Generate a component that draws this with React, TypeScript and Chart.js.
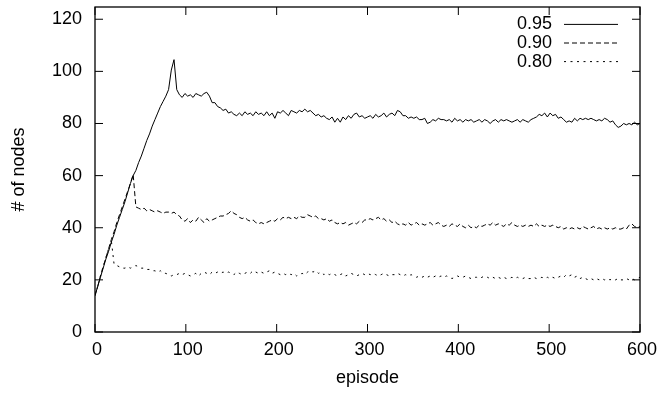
import React, { useEffect, useRef } from "react";
import { Chart, registerables } from "chart.js";

Chart.register(...registerables);

const FONT = '"Liberation Sans", Arial, Helvetica, sans-serif';

// x categories: one sample every 3 episodes, 0..600
const EPISODE_STEP = 3;
const EPISODES = Array.from({ length: 201 }, (_, i) => i * EPISODE_STEP);

const X_TICKS = [0, 100, 200, 300, 400, 500, 600];
const Y_TICKS = [0, 20, 40, 60, 80, 100, 120];

const SERIES_LABELS = ["0.95", "0.90", "0.80"];

const S95 = [
  14, 17.5, 21, 24.5, 28, 31, 34.5, 37.5, 41, 44,
  47, 50, 53.5, 57, 60, 62, 65, 67.5, 70.5, 73.5,
  76, 79, 81.5, 84, 86.5, 88.5, 90.5, 93, 100.5, 104.5,
  93, 91, 90, 91.5, 90.5, 91, 90, 91.5, 91, 90.5,
  91.5, 92, 90.5, 88, 88, 86.5, 86, 85, 85.5, 84,
  84.5, 83.5, 83, 84, 83, 84.5, 83.5, 84, 83, 84.5,
  83.5, 84, 83, 84.5, 83, 84, 82, 84.5, 84, 85,
  84, 83, 85, 84.5, 84, 85, 84.5, 85.5, 84.5, 85,
  84, 83, 83.5, 82.5, 83, 82, 81.5, 82.5, 80.5, 82,
  80.5, 82.5, 81.5, 83, 82, 83.5, 84, 82.5, 83, 82,
  82.5, 83, 82, 83.5, 82.5, 83, 84, 82.5, 83.5, 84,
  83, 85, 84.5, 83, 83, 82, 82.5, 82, 82.5, 81.5,
  81.5, 82, 80, 80.5, 81.5, 81, 82, 81.5, 81.5, 81,
  81.5, 80.5, 82, 81, 81.5, 80.5, 81.5, 81, 81.5, 80.5,
  81, 81.5, 80.5, 81.5, 81, 80, 81, 81.5, 80.5, 81.5,
  81, 81.5, 81, 80.5, 81, 81.5, 80.5, 81.5, 81, 80.5,
  81.5, 82, 82.5, 83.5, 83, 84, 82.5, 84, 83, 83.5,
  82, 82.5, 81.5, 80.5, 81, 80.5, 82, 81, 82, 81.5,
  82, 81.5, 82, 81.5, 81, 81.5, 81, 82, 81.5, 80.5,
  81, 79.5, 78.5, 79, 80, 79.5, 80, 79.5, 80.5, 79.5,
  80,
];

const S90 = [
  14, 17.5, 21.5, 25, 28.5, 32, 35.5, 38.5, 42, 45,
  48, 51, 54, 57, 60.5, 48, 47.5, 47, 47.5, 46.5,
  47, 46.5, 46, 46.5, 46, 45.5, 46, 46, 45.5, 46,
  45, 44.5, 43, 42.5, 43.5, 42, 43, 42.5, 44, 43,
  42, 43.5, 42.5, 43, 43.5, 44, 44.5, 44.5, 45, 45.5,
  46.5, 45.5, 45, 44, 43.5, 44, 43, 42.5, 43, 42,
  41.5, 42, 41.5, 42, 42.5, 43, 42.5, 43.5, 43, 44,
  43.5, 44, 43.5, 44, 43.5, 44.5, 44, 44, 45, 44.5,
  44, 44.5, 43.5, 43.5, 43, 43.5, 42.5, 43, 42, 41.5,
  42, 41.5, 42, 41, 41.5, 42, 41.5, 42.5, 42, 43,
  43, 43.5, 43, 43.5, 44, 43, 43.5, 42.5, 43, 42,
  42.5, 41.5, 41, 41.5, 41, 42, 41, 41.5, 42, 41,
  41.5, 41, 41.5, 42, 41, 41.5, 42, 41, 40.5, 41,
  40.5, 41.5, 41, 40.5, 41.5, 40.5, 40, 41, 40, 40.5,
  40, 41, 40.5, 41, 41.5, 41, 42, 41, 41.5, 41,
  40.5, 41.5, 41, 42, 41, 40.5, 41, 40.5, 41, 40.5,
  41, 40.5, 41.5, 40.5, 41, 40.5, 41, 40.5, 41, 40.5,
  40, 40.5, 39.5, 40, 39.5, 40, 39.5, 40, 39.5, 40.5,
  40, 39.5, 40, 40.5, 39.5, 40, 39.5, 40, 39.5, 40,
  39.5, 40, 39.5, 39.5, 40, 39.5, 41, 41.5, 40.5, 40,
  40.5,
];

const S80 = [
  14, 17.5, 21.5, 25, 28.5, 32, 35, 26, 25.5, 25,
  24.5, 24.5, 25, 24.5, 25, 25.5, 25, 24.5, 24.5, 24,
  24, 23.5, 23.5, 23, 23.5, 22.5, 22.5, 22, 21.5, 22,
  22, 22.5, 22, 22.5, 22, 21.5, 22, 22.5, 21.5, 22.5,
  23, 22.5, 22, 23, 22.5, 23, 22.5, 23, 22.5, 23,
  22.5, 22, 23, 22.5, 22, 22.5, 23, 22.5, 23.5, 23,
  22.5, 23, 22.5, 23, 23.5, 22.5, 23, 22.5, 22, 22.5,
  22, 22.5, 22, 22.5, 21.5, 22, 22.5, 22, 23, 23.5,
  23, 23.5, 22.5, 23, 22, 22.5, 22, 22.5, 22, 21.5,
  22, 22.5, 21.5, 22, 22.5, 22, 21.5, 22, 22.5, 22,
  22.5, 22, 22.5, 22, 21.5, 22, 22.5, 22, 21.5, 22,
  22, 22.5, 22, 21.5, 22, 21.5, 22, 21.5, 21, 21.5,
  21, 21.5, 21, 21.5, 21, 21.5, 21, 21.5, 21, 21.5,
  21, 20.5, 21, 21.5, 21, 21, 21.5, 21, 20.5, 21,
  21, 20.5, 21, 21.5, 21, 20.5, 21, 20.5, 21, 20.5,
  21, 20.5, 20.5, 21, 20.5, 21, 20.5, 20.5, 21, 20.5,
  20.5, 21, 20.5, 20.5, 21, 20.5, 21, 20.5, 21, 20.5,
  21, 21.5, 21, 22, 21.5, 22, 21, 21.5, 20.5, 21,
  20.5, 20, 20.5, 20, 20.5, 20, 20.5, 20, 20.5, 20,
  20.5, 20, 20.5, 20, 20, 20.5, 20, 20.5, 20, 20.5,
  21,
];

const SERIES_VALUES = [S95, S90, S80];
const SERIES_DASH: number[][] = [[], [5, 3], [2, 4.5]];

const framePlugin = {
  id: "gnuFrame",
  afterDraw(chart: any) {
    const { ctx, chartArea, scales } = chart;
    const { left, top, right, bottom } = chartArea;
    const xs = scales.x;
    const ys = scales.y;
    ctx.save();
    ctx.strokeStyle = "#000";
    ctx.lineWidth = 1.3;
    ctx.setLineDash([]);
    ctx.strokeRect(left, top, right - left, bottom - top);
    ctx.lineWidth = 1;
    const tl = 8;
    ctx.beginPath();
    for (const v of Y_TICKS) {
      const py = ys.getPixelForValue(v);
      ctx.moveTo(left, py);
      ctx.lineTo(left + tl, py);
      ctx.moveTo(right - tl, py);
      ctx.lineTo(right, py);
    }
    for (const v of X_TICKS) {
      const px = xs.getPixelForValue(v);
      ctx.moveTo(px, bottom);
      ctx.lineTo(px, bottom - tl);
      ctx.moveTo(px, top);
      ctx.lineTo(px, top + tl);
    }
    ctx.stroke();

    // legend (gnuplot style: label then sample)
    ctx.font = `18px ${FONT}`;
    ctx.fillStyle = "#000";
    ctx.textAlign = "right";
    ctx.textBaseline = "middle";
    const rows = [17.4, 36, 54.6];
    SERIES_LABELS.forEach((lab, i) => {
      const yy = top + rows[i];
      ctx.fillText(lab, right - 88, yy);
      ctx.beginPath();
      ctx.setLineDash(SERIES_DASH[i]);
      ctx.lineWidth = 1;
      ctx.moveTo(right - 76, yy);
      ctx.lineTo(right - 22, yy);
      ctx.stroke();
    });
    ctx.restore();
  },
};

export default function App() {
  const ref = useRef<HTMLCanvasElement>(null);

  useEffect(() => {
    const canvas = ref.current;
    if (!canvas) return;
    const chart = new Chart(canvas, {
      type: "line",
      data: {
        datasets: SERIES_VALUES.map((vals, i) => ({
          label: SERIES_LABELS[i],
          data: EPISODES.map((ep, j) => ({ x: ep, y: vals[j] })),
          borderColor: "#000",
          borderWidth: 1,
          borderDash: SERIES_DASH[i],
          pointRadius: 0,
          tension: 0,
          fill: false,
        })),
      },
      options: {
        responsive: false,
        animation: false,
        devicePixelRatio: 1,
        layout: { padding: { top: 7, right: 21, left: 0, bottom: 0 } },
        plugins: {
          legend: { display: false },
          tooltip: { enabled: false },
        },
        scales: {
          x: {
            type: "linear",
            min: 0,
            max: 600,
            afterBuildTicks: (s: any) => {
              s.ticks = X_TICKS.map((v) => ({ value: v }));
            },
            afterFit: (s: any) => {
              s.height = 62;
              s.paddingLeft = 0;
              s.paddingRight = 0;
            },
            grid: { display: false, drawTicks: false },
            border: { display: false },
            ticks: {
              color: "#000",
              font: { family: FONT, size: 18 },
              padding: 7.5,
              labelOffset: 2,
              maxRotation: 0,
              autoSkip: false,
            },
            title: {
              display: true,
              text: "episode",
              color: "#000",
              font: { family: FONT, size: 18 },
              padding: { top: 0, bottom: 5 },
            },
          },
          y: {
            type: "linear",
            min: 0,
            max: 124.7,
            afterBuildTicks: (s: any) => {
              s.ticks = Y_TICKS.map((v) => ({ value: v }));
            },
            afterFit: (s: any) => {
              s.width = 95;
              s.paddingTop = 0;
              s.paddingBottom = 0;
            },
            grid: { display: false, drawTicks: false },
            border: { display: false },
            ticks: {
              color: "#000",
              font: { family: FONT, size: 18 },
              padding: 13,
              autoSkip: false,
            },
            title: {
              display: true,
              text: "# of nodes",
              color: "#000",
              font: { family: FONT, size: 18 },
              padding: { top: 8, bottom: 0 },
            },
          },
        },
      },
      plugins: [framePlugin],
    } as any);
    return () => chart.destroy();
  }, []);

  return (
    <div style={{ position: "absolute", left: 0, top: 0, width: 661, height: 394 }}>
      <canvas ref={ref} width={661} height={394} style={{ display: "block" }} />
    </div>
  );
}
